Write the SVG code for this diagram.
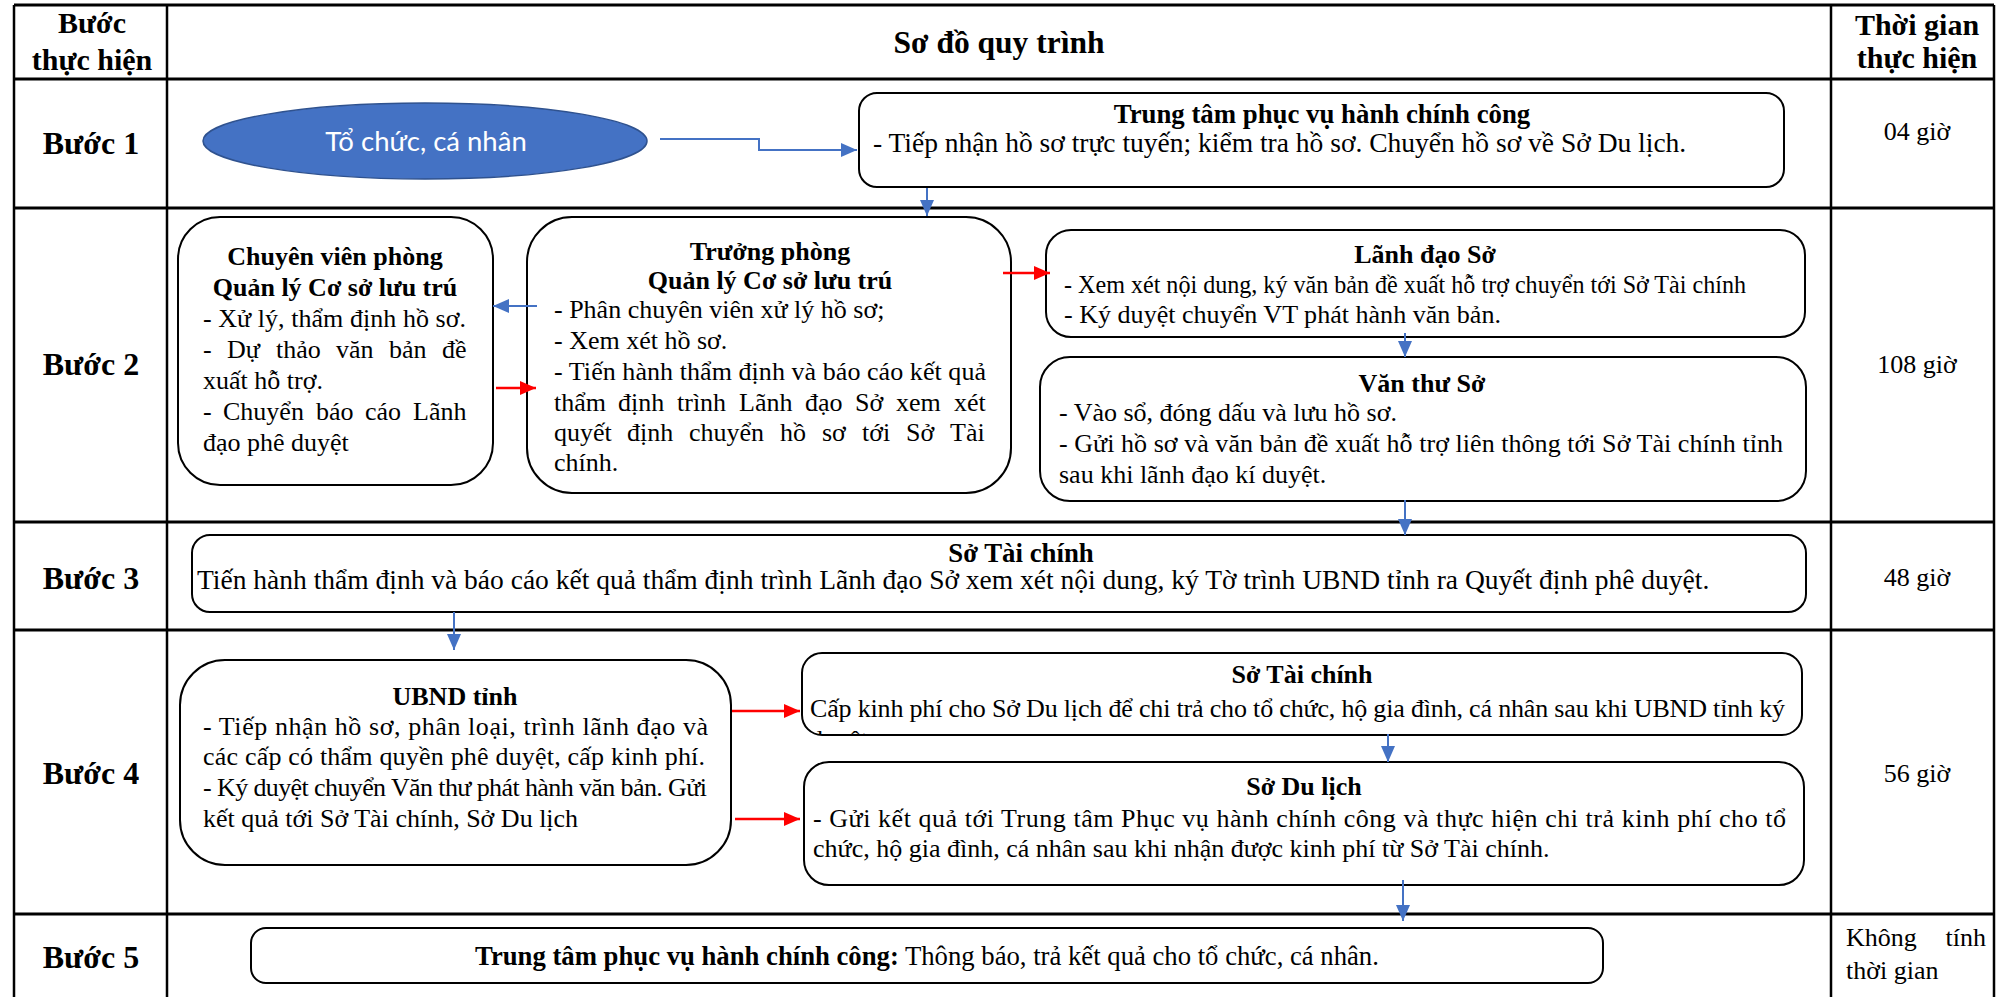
<svg xmlns="http://www.w3.org/2000/svg" width="2011" height="997" viewBox="0 0 2011 997">
<defs>
<style>
.ln{stroke:#000;fill:none}
.hl{stroke-width:3}
.vl{stroke-width:2.5}
.box{fill:#fff;stroke:#000;stroke-width:2}
text{font-family:"Liberation Serif","Times New Roman",serif;fill:#000}
.b{font-weight:bold}
.hd{font-size:30px;font-weight:bold;text-anchor:middle}
.st{font-size:32px;font-weight:bold;text-anchor:middle}
.tt{font-size:26px;font-weight:bold;text-anchor:middle}
.tx{font-size:26px}
.tl{font-size:27.5px}
.tm{font-size:26px;text-anchor:middle}
.blue{stroke:#4472C4;stroke-width:2;fill:none}
.red{stroke:#FF0000;stroke-width:2.5;fill:none}
</style>
<marker id="ab" markerUnits="userSpaceOnUse" markerWidth="16" markerHeight="14" refX="16" refY="7" orient="auto"><path d="M0,0L16,7L0,14z" fill="#4472C4"/></marker>
<marker id="ar" markerUnits="userSpaceOnUse" markerWidth="16" markerHeight="14" refX="16" refY="7" orient="auto"><path d="M0,0L16,7L0,14z" fill="#FF0000"/></marker>
<clipPath id="cTC4"><rect x="802" y="653" width="1000" height="82" rx="20"/></clipPath>
</defs>

<g id="table">
<line class="ln hl" x1="14" y1="5" x2="1994" y2="5"/>
<line class="ln hl" x1="14" y1="79" x2="1994" y2="79"/>
<line class="ln hl" x1="14" y1="208" x2="1994" y2="208"/>
<line class="ln hl" x1="14" y1="522" x2="1994" y2="522"/>
<line class="ln hl" x1="14" y1="630" x2="1994" y2="630"/>
<line class="ln hl" x1="14" y1="914" x2="1994" y2="914"/>
<line class="ln vl" x1="14" y1="5" x2="14" y2="997"/>
<line class="ln vl" x1="167" y1="5" x2="167" y2="997"/>
<line class="ln vl" x1="1831" y1="5" x2="1831" y2="997"/>
<line class="ln vl" x1="1994" y1="5" x2="1994" y2="997"/>
<text class="hd" x="92" y="33">Bước</text>
<text class="hd" x="92" y="70">thực hiện</text>
<text class="hd" x="999" y="53" style="font-size:31.5px">Sơ đồ quy trình</text>
<text class="hd" x="1917" y="35">Thời gian</text>
<text class="hd" x="1917" y="68">thực hiện</text>
<text class="st" x="91" y="154">Bước 1</text>
<text class="st" x="91" y="375">Bước 2</text>
<text class="st" x="91" y="589">Bước 3</text>
<text class="st" x="91" y="784">Bước 4</text>
<text class="st" x="91" y="968">Bước 5</text>
<text class="tm" x="1917" y="140">04 giờ</text>
<text class="tm" x="1917" y="373">108 giờ</text>
<text class="tm" x="1917" y="586">48 giờ</text>
<text class="tm" x="1917" y="782">56 giờ</text>
<text class="tx" x="1846" y="946">Không</text>
<text class="tx" x="1986" y="946" text-anchor="end">tính</text>
<text class="tx" x="1846" y="979">thời gian</text>
</g>

<g id="n-tochuc">
<ellipse cx="425" cy="141" rx="222" ry="38" fill="#4472C4" stroke="#2F528F" stroke-width="1.5"/>
<text x="426" y="151" text-anchor="middle" style="font-family:Lato,'Liberation Sans',sans-serif;font-size:27.5px;fill:#fff">Tổ chức, cá nhân</text>
</g>

<g id="n-ttpvhcc">
<rect class="box" x="859" y="93" width="925" height="94" rx="18"/>
<text class="tt" x="1322" y="123" style="font-size:26.8px">Trung tâm phục vụ hành chính công</text>
<text class="tl" x="873" y="152">- Tiếp nhận hồ sơ trực tuyến; kiểm tra hồ sơ. Chuyển hồ sơ về Sở Du lịch.</text>
</g>

<g id="n-chuyenvien">
<rect class="box" x="178" y="217" width="315" height="268" rx="42"/>
<text class="tt" x="335" y="265">Chuyên viên phòng</text>
<text class="tt" x="335" y="296">Quản lý Cơ sở lưu trú</text>
<text class="tx" x="203" y="327" textLength="263" lengthAdjust="spacing">- Xử lý, thẩm định hồ sơ.</text>
<text class="tx" y="358"><tspan x="203">-</tspan><tspan x="227">Dự</tspan><tspan x="276">thảo</tspan><tspan x="336">văn</tspan><tspan x="389">bản</tspan><tspan x="442">đề</tspan></text>
<text class="tx" x="203" y="389">xuất hỗ trợ.</text>
<text class="tx" y="420"><tspan x="203">-</tspan><tspan x="223">Chuyển</tspan><tspan x="316">báo</tspan><tspan x="365">cáo</tspan><tspan x="413">Lãnh</tspan></text>
<text class="tx" x="203" y="451">đạo phê duyệt</text>
</g>

<g id="n-truongphong">
<rect class="box" x="527" y="217" width="484" height="276" rx="45"/>
<text class="tt" x="770" y="260">Trưởng phòng</text>
<text class="tt" x="770" y="289">Quản lý Cơ sở lưu trú</text>
<text class="tx" x="554" y="318">- Phân chuyên viên xử lý hồ sơ;</text>
<text class="tx" x="554" y="349">- Xem xét hồ sơ.</text>
<text class="tx" x="554" y="380" textLength="432" lengthAdjust="spacing">- Tiến hành thẩm định và báo cáo kết quả</text>
<text class="tx" y="411"><tspan x="554">thẩm</tspan><tspan x="618">định</tspan><tspan x="677">trình</tspan><tspan x="739">Lãnh</tspan><tspan x="805">đạo</tspan><tspan x="855">Sở</tspan><tspan x="896">xem</tspan><tspan x="954">xét</tspan></text>
<text class="tx" y="441"><tspan x="554">quyết</tspan><tspan x="627">định</tspan><tspan x="689">chuyển</tspan><tspan x="780">hồ</tspan><tspan x="822">sơ</tspan><tspan x="862">tới</tspan><tspan x="906">Sở</tspan><tspan x="950">Tài</tspan></text>
<text class="tx" x="554" y="471">chính.</text>
</g>

<g id="n-lanhdao">
<rect class="box" x="1046" y="230" width="759" height="107" rx="25"/>
<text class="tt" x="1425" y="263">Lãnh đạo Sở</text>
<text class="tx" x="1064" y="293" textLength="682" lengthAdjust="spacingAndGlyphs">- Xem xét nội dung, ký văn bản đề xuất hỗ trợ chuyển tới Sở Tài chính</text>
<text class="tx" x="1064" y="323" textLength="437" lengthAdjust="spacingAndGlyphs">- Ký duyệt chuyển VT phát hành văn bản.</text>
</g>

<g id="n-vanthu">
<rect class="box" x="1040" y="357" width="766" height="144" rx="30"/>
<text class="tt" x="1422" y="392">Văn thư Sở</text>
<text class="tx" x="1059" y="421">- Vào sổ, đóng dấu và lưu hồ sơ.</text>
<text class="tx" x="1059" y="452" textLength="724" lengthAdjust="spacing">- Gửi hồ sơ và văn bản đề xuất hỗ trợ liên thông tới Sở Tài chính tỉnh</text>
<text class="tx" x="1059" y="483">sau khi lãnh đạo kí duyệt.</text>
</g>

<g id="n-taichinh3">
<rect class="box" x="192" y="535" width="1614" height="77" rx="18"/>
<text class="tt" x="1021" y="562" style="font-size:26.8px">Sở Tài chính</text>
<text class="tl" x="197" y="589">Tiến hành thẩm định và báo cáo kết quả thẩm định trình Lãnh đạo Sở xem xét nội dung, ký Tờ trình UBND tỉnh ra Quyết định phê duyệt.</text>
</g>

<g id="n-ubnd">
<rect class="box" x="180" y="660" width="551" height="205" rx="45"/>
<text class="tt" x="455" y="705">UBND tỉnh</text>
<text class="tx" x="203" y="735" textLength="505" lengthAdjust="spacing">- Tiếp nhận hồ sơ, phân loại, trình lãnh đạo và</text>
<text class="tx" x="203" y="765" textLength="502" lengthAdjust="spacing">các cấp có thẩm quyền phê duyệt, cấp kinh phí.</text>
<text class="tx" x="203" y="796" textLength="504" lengthAdjust="spacing">- Ký duyệt chuyển Văn thư phát hành văn bản. Gửi</text>
<text class="tx" x="203" y="827">kết quả tới Sở Tài chính, Sở Du lịch</text>
</g>

<g id="n-taichinh4">
<rect class="box" x="802" y="653" width="1000" height="82" rx="20"/>
<text class="tt" x="1302" y="683">Sở Tài chính</text>
<g clip-path="url(#cTC4)">
<text class="tx" x="810" y="717" textLength="975" lengthAdjust="spacing">Cấp kinh phí cho Sở Du lịch để chi trả cho tổ chức, hộ gia đình, cá nhân sau khi UBND tỉnh ký</text>
<text class="tx" x="810" y="748">duyệt.</text>
</g>
</g>

<g id="n-dulich">
<rect class="box" x="804" y="762" width="1000" height="123" rx="25"/>
<text class="tt" x="1304" y="795">Sở Du lịch</text>
<text class="tx" x="813" y="827" textLength="973" lengthAdjust="spacing">- Gửi kết quả tới Trung tâm Phục vụ hành chính công và thực hiện chi trả kinh phí cho tổ</text>
<text class="tx" x="813" y="857">chức, hộ gia đình, cá nhân sau khi nhận được kinh phí từ Sở Tài chính.</text>
</g>

<g id="n-buoc5">
<rect class="box" x="251" y="928" width="1352" height="55" rx="15"/>
<text x="927" y="965" text-anchor="middle" style="font-size:26.7px"><tspan class="b">Trung tâm phục vụ hành chính công:</tspan> Thông báo, trả kết quả cho tổ chức, cá nhân.</text>
</g>

<g id="connectors">
<path class="blue" d="M660,139H759V150H857" marker-end="url(#ab)"/>
<path class="blue" d="M927,188V216" marker-end="url(#ab)"/>
<path class="blue" d="M537,306H493" marker-end="url(#ab)"/>
<path class="red" d="M496,388H536" marker-end="url(#ar)"/>
<path class="red" d="M1003,273H1050" marker-end="url(#ar)"/>
<path class="blue" d="M1405,333V357" marker-end="url(#ab)"/>
<path class="blue" d="M1405,500V535" marker-end="url(#ab)"/>
<path class="blue" d="M454,612V650" marker-end="url(#ab)"/>
<path class="red" d="M732,711H800" marker-end="url(#ar)"/>
<path class="red" d="M735,819H800" marker-end="url(#ar)"/>
<path class="blue" d="M1388,734V762" marker-end="url(#ab)"/>
<path class="blue" d="M1403,880V921" marker-end="url(#ab)"/>
</g>
</svg>
